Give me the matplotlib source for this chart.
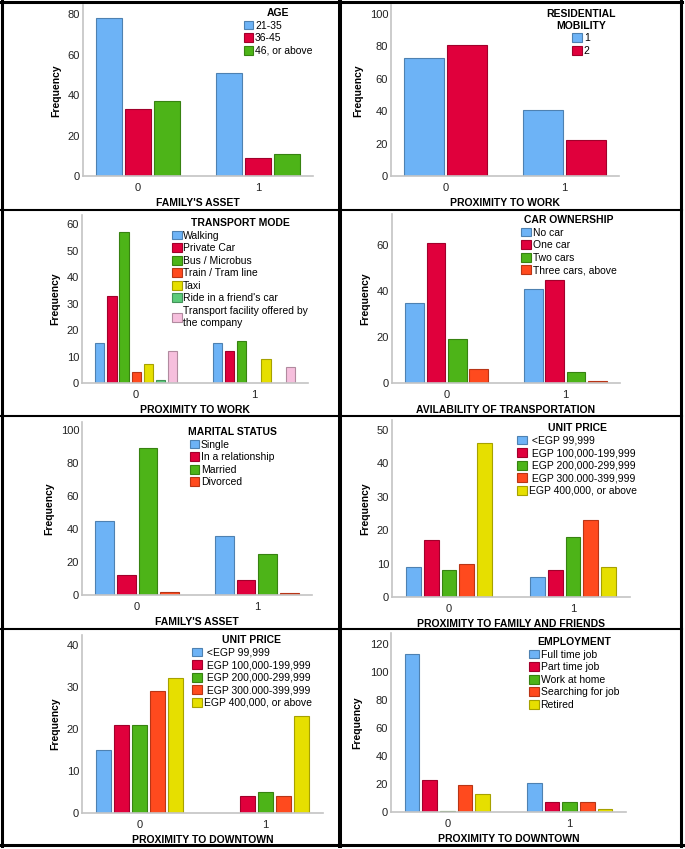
import matplotlib.pyplot as plt
import numpy as np
from matplotlib.colors import to_rgb
from matplotlib.lines import Line2D

# ---- data (counts per group 0 / 1) ----
GROUPS = ["0", "1"]

age_series = ["21-35", "36-45", "46, or above"]
age_counts = [[78, 51], [33, 9], [37, 11]]

mobility_series = ["1", "2"]
mobility_counts = [[73, 41], [81, 22]]

mode_series = ["Walking", "Private Car", "Bus / Microbus", "Train / Tram line", "Taxi",
               "Ride in a friend's car", "Transport facility offered by\nthe company"]
mode_counts = [[15, 15], [33, 12], [57, 16], [4, 0], [7, 9], [1, 0], [12, 6]]

car_series = ["No car", "One car", "Two cars", "Three cars, above"]
car_counts = [[35, 41], [61, 45], [19, 5], [6, 1]]

marital_series = ["Single", "In a relationship", "Married", "Divorced"]
marital_counts = [[45, 36], [12, 9], [89, 25], [2, 1]]

price_series = [" <EGP 99,999", " EGP 100,000-199,999", " EGP 200,000-299,999",
                " EGP 300.000-399,999", "EGP 400,000, or above"]
price_family_counts = [[9, 6], [17, 8], [8, 18], [10, 23], [46, 9]]
price_downtown_counts = [[15, 0], [21, 4], [21, 5], [29, 4], [32, 23]]

emp_series = ["Full time job", "Part time job", "Work at home", "Searching for job", "Retired"]
emp_counts = [[113, 21], [23, 7], [1, 7], [19, 7], [13, 2]]

# ---- style ----
BLUE = "#6DB3F6"
RED = "#E0003C"
GREEN = "#4DB418"
ORANGE = "#FF4A1E"
YELLOW = "#E6DF00"
MINT = "#5CCB7A"
PINK = "#F6BFDD"

W, H = 685, 849
TICK_FS = 8
LEG_FS = 7.5
LAB_FS = 7.5

plt.rcParams.update({
    "font.family": ["Liberation Sans", "DejaVu Sans"],
    "font.size": TICK_FS,
    "figure.facecolor": "white",
    "axes.facecolor": "white",
})


def darker(c, f=0.72):
    return tuple(v * f for v in to_rgb(c))


def draw_panel(fig, box, series, counts, colors, ymax, yticks, xlabel, title, leg_xy):
    x0, y0, x1, y1 = box
    ax = fig.add_axes([x0 / W, 1 - y1 / H, (x1 - x0) / W, (y1 - y0) / H])
    n = len(series)
    group_w = 0.72
    slot = group_w / n
    centers = np.arange(len(GROUPS))
    handles = []
    for i, (name, vals, col) in enumerate(zip(series, counts, colors)):
        xs = centers - group_w / 2 + slot * (i + 0.5)
        bars = ax.bar(xs, vals, width=slot - 0.025, color=col, edgecolor=darker(col),
                      linewidth=0.8, label=name)
        # SPSS leaves empty categories out entirely
        for b, v in zip(bars, vals):
            if v == 0:
                b.set_visible(False)
        handles.append(bars)

    ax.set_xlim(-0.46, 1.46)
    ax.set_ylim(0, ymax)
    ax.set_xticks(centers)
    ax.set_xticklabels(GROUPS)
    ax.set_yticks(yticks)
    ax.tick_params(length=0, labelsize=TICK_FS, labelcolor="#222222")
    ax.tick_params(axis="x", pad=5)
    ax.tick_params(axis="y", pad=2)
    for side in ["top", "right"]:
        ax.spines[side].set_visible(False)
    for side in ["left", "bottom"]:
        ax.spines[side].set_color("#C4C4C4")
        ax.spines[side].set_linewidth(1.2)
    ax.set_ylabel("Frequency", fontweight="bold", fontsize=LAB_FS, labelpad=5)
    ax.set_xlabel(xlabel, fontweight="bold", fontsize=LAB_FS, labelpad=3.5)

    leg = ax.legend(handles=handles, title=title, loc="upper center",
                    bbox_to_anchor=(leg_xy[0] / W, 1 - leg_xy[1] / H),
                    bbox_transform=fig.transFigure, frameon=False, fontsize=LEG_FS,
                    title_fontproperties={"weight": "bold", "size": LAB_FS},
                    handlelength=0.95, handleheight=0.95, handletextpad=0.15,
                    labelspacing=0.24, borderpad=0, borderaxespad=0)
    leg.get_title().set_multialignment("center")
    return ax


fig = plt.figure(figsize=(W / 100, H / 100), dpi=100)

draw_panel(fig, (83, 5, 313, 176), age_series, age_counts, [BLUE, RED, GREEN],
           84.5, [0, 20, 40, 60, 80], "FAMILY'S ASSET", "AGE", (278, 8))
draw_panel(fig, (391, 5, 619, 176), mobility_series, mobility_counts, [BLUE, RED],
           105.6, [0, 20, 40, 60, 80, 100], "PROXIMITY TO WORK", "RESIDENTIAL\nMOBILITY", (581, 9))
draw_panel(fig, (82, 215, 308, 383), mode_series, mode_counts,
           [BLUE, RED, GREEN, ORANGE, YELLOW, MINT, PINK],
           63.5, [0, 10, 20, 30, 40, 50, 60], "PROXIMITY TO WORK", "TRANSPORT MODE", (240, 218))
draw_panel(fig, (392, 214, 620, 383), car_series, car_counts, [BLUE, RED, GREEN, ORANGE],
           73.5, [0, 20, 40, 60], "AVILABILITY OF TRANSPORTATION", "CAR OWNERSHIP", (569, 215))
draw_panel(fig, (82, 422, 312, 595), marital_series, marital_counts, [BLUE, RED, GREEN, ORANGE],
           105, [0, 20, 40, 60, 80, 100], "FAMILY'S ASSET", "MARITAL STATUS", (232, 427))
draw_panel(fig, (392, 420, 630, 597), price_series, price_family_counts,
           [BLUE, RED, GREEN, ORANGE, YELLOW],
           53, [0, 10, 20, 30, 40, 50], "PROXIMITY TO FAMILY AND FRIENDS", "UNIT PRICE", (577, 423))
draw_panel(fig, (82, 635, 323, 813), price_series, price_downtown_counts,
           [BLUE, RED, GREEN, ORANGE, YELLOW],
           42.3, [0, 10, 20, 30, 40], "PROXIMITY TO DOWNTOWN", "UNIT PRICE", (252, 635))
draw_panel(fig, (391, 633, 626, 812), emp_series, emp_counts,
           [BLUE, RED, GREEN, ORANGE, YELLOW],
           127.7, [0, 20, 40, 60, 80, 100, 120], "PROXIMITY TO DOWNTOWN", "EMPLOYMENT", (574, 637))


def hline(y, xa, xb, lw):
    fig.add_artist(Line2D([xa / W, xb / W], [1 - y / H, 1 - y / H],
                          transform=fig.transFigure, color="black", lw=lw))


def vline(x, ya, yb, lw):
    fig.add_artist(Line2D([x / W, x / W], [1 - ya / H, 1 - yb / H],
                          transform=fig.transFigure, color="black", lw=lw))


# panel frames
for y in [210, 416, 629]:
    hline(y, 0, 682, 1.5)
hline(1.5, 0, 682, 2.2)
hline(845, 0, 682.5, 2.2)
vline(1.5, 0, 846, 2.2)
vline(681, 0, 846, 2.2)
vline(339.5, 0, 846, 2.9)

fig.savefig("out.png", dpi=100, facecolor="white")
